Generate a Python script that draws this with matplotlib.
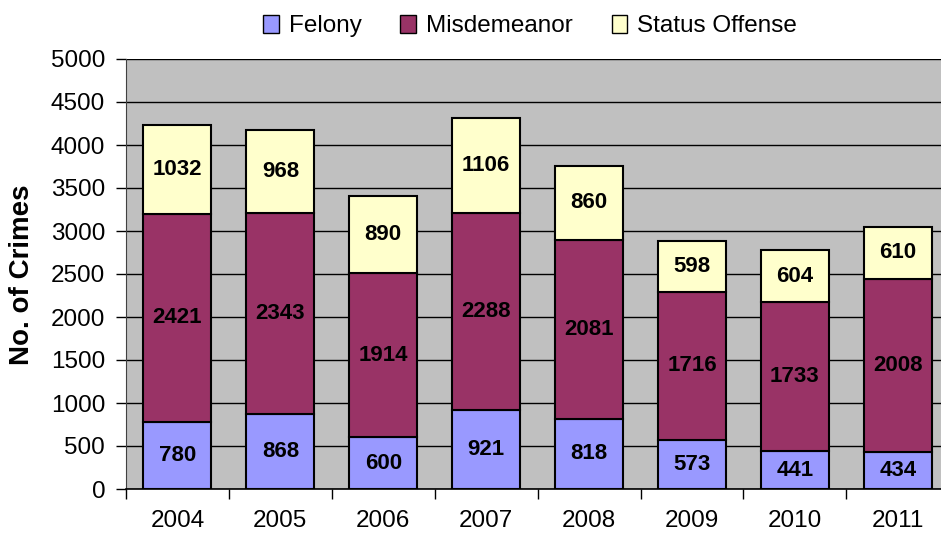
import numpy as np
import matplotlib
matplotlib.use('Agg')
import matplotlib.pyplot as plt
from matplotlib.patches import Patch

years = ['2004', '2005', '2006', '2007', '2008', '2009', '2010', '2011']
felony = [780, 868, 600, 921, 818, 573, 441, 434]
misdemeanor = [2421, 2343, 1914, 2288, 2081, 1716, 1733, 2008]
status = [1032, 968, 890, 1106, 860, 598, 604, 610]

plt.rcParams['font.family'] = ['Liberation Sans', 'DejaVu Sans']

fig = plt.figure(figsize=(9.41, 5.33), dpi=100)
ax = fig.add_axes([126 / 941, 1 - 489 / 533, 1 - 126 / 941, (489 - 59) / 533])
ax.set_facecolor('#C0C0C0')

x = np.arange(len(years))
w = 0.66
felony = np.array(felony)
misdemeanor = np.array(misdemeanor)
status = np.array(status)

series = [
    (felony, np.zeros(len(years)), '#9999FF', 'Felony'),
    (misdemeanor, felony, '#993366', 'Misdemeanor'),
    (status, felony + misdemeanor, '#FFFFCC', 'Status Offense'),
]

for vals, bottom, color, name in series:
    ax.bar(x, vals, w, bottom=bottom, color=color, edgecolor='black',
           linewidth=1.5, zorder=3)
    for xi, v, b in zip(x, vals, bottom):
        ax.text(xi, b + v / 2, str(v), ha='center', va='center',
                fontsize=16, fontweight='bold', color='black', zorder=4)

ax.set_ylim(0, 5000)
ax.set_yticks(np.arange(0, 5001, 500))
ax.set_xlim(-0.5, 7.42)
ax.yaxis.grid(True, color='black', linewidth=1.0, zorder=0)
ax.set_axisbelow(True)

ax.set_xticks(x)
ax.set_xticklabels(years)
ax.set_xticks(np.arange(-0.5, 7.5, 1), minor=True)
ax.tick_params(axis='x', which='major', length=0, pad=15, labelsize=17.5)
ax.tick_params(axis='x', which='minor', length=7, width=1, direction='out')
ax.tick_params(axis='y', length=7, width=1, labelsize=17.5, pad=8)

for s in ['top', 'right']:
    ax.spines[s].set_visible(False)
ax.spines['left'].set_color('#404040')
ax.spines['bottom'].set_color('black')
ax.spines['bottom'].set_linewidth(1.2)

fig.text(22 / 941, 1 - 275 / 533, 'No. of Crimes', rotation=90, ha='center',
         va='center', fontsize=20, fontweight='bold')

handles = [Patch(facecolor=c, edgecolor='black', linewidth=1, label=n)
           for _, _, c, n in series]
fig.legend(handles=handles, loc='center', bbox_to_anchor=(530 / 941, 1 - 26 / 533),
           ncol=3, frameon=False, fontsize=17.5, handlelength=0.65, handleheight=0.75,
           handletextpad=0.4, columnspacing=1.6)

fig.savefig('out.png', dpi=100)
